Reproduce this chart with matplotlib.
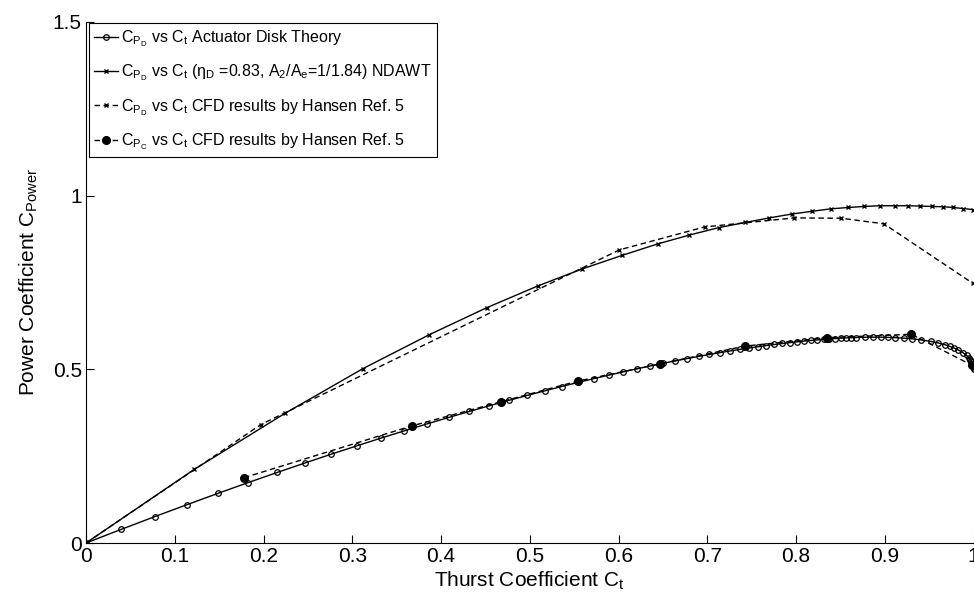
import numpy as np
import matplotlib
matplotlib.use("Agg")
import matplotlib.pyplot as plt
from matplotlib.ticker import FixedLocator, FuncFormatter

# Actuator disk theory (open circles)
ct_theory = [0.0, 0.0396, 0.0776, 0.1142, 0.1492, 0.1829, 0.2153, 0.2464, 0.2762, 0.3049,
             0.3324, 0.3588, 0.3842, 0.4086, 0.4320, 0.4545, 0.4761, 0.4969, 0.5168, 0.5359,
             0.5543, 0.5720, 0.5889, 0.6052, 0.6208, 0.6358, 0.6502, 0.6641, 0.6774, 0.6902,
             0.7024, 0.7142, 0.7255, 0.7364, 0.7469, 0.7569, 0.7665, 0.7757, 0.7846, 0.7931,
             0.8013, 0.8092, 0.8168, 0.8240, 0.8310, 0.8377, 0.8441, 0.8503, 0.8562, 0.8619,
             0.8674, 0.8777, 0.8872, 0.8959, 0.9040, 0.9115, 0.9216, 0.9305, 0.9409, 0.9517,
             0.9605, 0.9678, 0.9737, 0.9785, 0.9824, 0.9883, 0.9922, 0.9948, 0.9965, 0.9977,
             0.9990, 0.9997, 1.0, 1.0]
cp_theory = [0.0, 0.0392, 0.0761, 0.1108, 0.1434, 0.1741, 0.2030, 0.2301, 0.2556, 0.2795,
             0.3020, 0.3230, 0.3429, 0.3614, 0.3788, 0.3951, 0.4104, 0.4247, 0.4380, 0.4505,
             0.4622, 0.4731, 0.4832, 0.4927, 0.5015, 0.5097, 0.5174, 0.5245, 0.5311, 0.5372,
             0.5428, 0.5480, 0.5528, 0.5572, 0.5613, 0.5650, 0.5684, 0.5715, 0.5744, 0.5769,
             0.5792, 0.5813, 0.5832, 0.5848, 0.5863, 0.5876, 0.5887, 0.5897, 0.5904, 0.5911,
             0.5916, 0.5923, 0.5926, 0.5925, 0.5920, 0.5913, 0.5898, 0.5879, 0.5848, 0.5804,
             0.5757, 0.5708, 0.5658, 0.5610, 0.5563, 0.5477, 0.5400, 0.5334, 0.5277, 0.5229,
             0.5156, 0.5086, 0.5032, 0.5012]

# NDAWT (solid, x markers)
ct_ndawt = [0.0, 0.122, 0.224, 0.312, 0.387, 0.452, 0.509, 0.559, 0.604, 0.644, 0.679,
            0.713, 0.743, 0.770, 0.795, 0.818, 0.839, 0.859, 0.877, 0.895, 0.911, 0.926,
            0.940, 0.953, 0.966, 0.977, 0.988, 0.999]
cp_ndawt = [0.0, 0.212, 0.373, 0.502, 0.600, 0.678, 0.740, 0.789, 0.828, 0.861, 0.886,
            0.908, 0.923, 0.936, 0.947, 0.955, 0.962, 0.966, 0.969, 0.971, 0.971, 0.971,
            0.970, 0.969, 0.968, 0.966, 0.963, 0.960]

# CFD, Hansen Ref. 5 - C_P_D (dashed, x markers)
ct_cfd_d = [0.0, 0.197, 0.601, 0.697, 0.798, 0.851, 0.899, 0.999]
cp_cfd_d = [0.0, 0.341, 0.844, 0.910, 0.936, 0.935, 0.919, 0.748]

# CFD, Hansen Ref. 5 - C_P_C (dashed, filled dots)
ct_cfd_c = [0.178, 0.367, 0.468, 0.554, 0.647, 0.743, 0.835, 0.930, 0.998]
cp_cfd_c = [0.188, 0.337, 0.407, 0.466, 0.516, 0.567, 0.591, 0.601, 0.512]

x_ticks = [0, 0.1, 0.2, 0.3, 0.4, 0.5, 0.6, 0.7, 0.8, 0.9, 1.0]
y_ticks = [0, 0.5, 1.0, 1.5]

plt.rcParams["font.family"] = ["Liberation Sans", "DejaVu Sans"]
plt.rcParams["mathtext.fontset"] = "custom"
plt.rcParams["mathtext.rm"] = "Liberation Sans"
plt.rcParams["mathtext.it"] = "Liberation Sans"
plt.rcParams["mathtext.default"] = "regular"

fig = plt.figure(figsize=(9.74, 6.01), dpi=100)
ax = fig.add_axes([0.0883, 0.0965, 0.9112, 0.8669])

dash = (4, 2.5)
ax.plot(ct_theory, cp_theory, "-", color="black", lw=1.0, marker="o", ms=4,
        mfc="none", mew=0.9,
        label=r"$C_{P_D}$ vs $C_t$ Actuator Disk Theory")
ax.plot(ct_ndawt, cp_ndawt, "-", color="black", lw=1.0, marker="x", ms=3.5, mew=1.0,
        label=r"$C_{P_D}$ vs $C_t$ ($\eta_D$ =0.83, $A_2$/$A_e$=1/1.84) NDAWT")
ax.plot(ct_cfd_d, cp_cfd_d, "--", dashes=dash, color="black", lw=1.0, marker="x",
        ms=3.5, mew=1.0,
        label=r"$C_{P_D}$ vs $C_t$ CFD results by Hansen Ref. 5")
ax.plot(ct_cfd_c, cp_cfd_c, "--", dashes=dash, color="black", lw=1.0, marker="o",
        ms=5.5, mfc="black",
        label=r"$C_{P_C}$ vs $C_t$ CFD results by Hansen Ref. 5")

ax.set_xlim(0, 1)
ax.set_ylim(0, 1.5)
ax.xaxis.set_major_locator(FixedLocator(x_ticks))
ax.yaxis.set_major_locator(FixedLocator(y_ticks))
fmt = FuncFormatter(lambda v, p: f"{v:g}")
ax.xaxis.set_major_formatter(fmt)
ax.yaxis.set_major_formatter(fmt)
ax.tick_params(direction="in", length=6, width=0.8, labelsize=15, pad=3)
ax.spines["top"].set_visible(False)
ax.spines["right"].set_visible(False)
for s in ("left", "bottom"):
    ax.spines[s].set_linewidth(0.8)

ax.set_xlabel(r"Thurst Coefficient $C_t$", fontsize=15, labelpad=2.5)
ax.set_ylabel(r"Power Coefficient $C_{Power}$", fontsize=15, labelpad=9)

leg = ax.legend(loc="upper left", bbox_to_anchor=(0.003, 0.998), borderaxespad=0,
                fontsize=11.5, handlelength=1.5, handletextpad=0.2, labelspacing=0.85,
                borderpad=0.35, fancybox=False, framealpha=1, edgecolor="black")
leg.get_frame().set_linewidth(0.8)

plt.savefig("out.png", dpi=100)
